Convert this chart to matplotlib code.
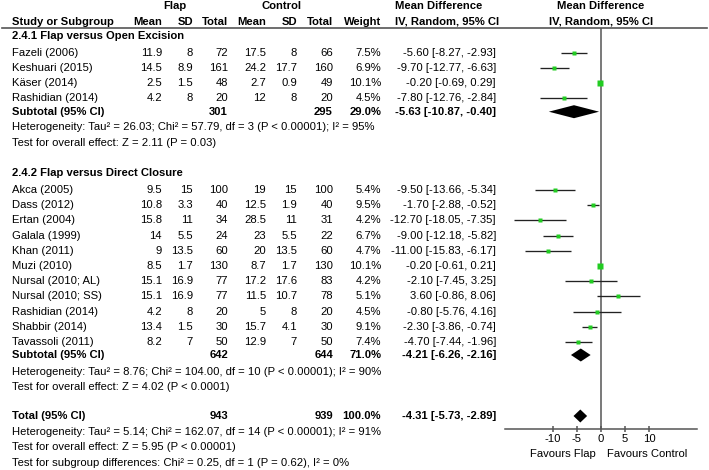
import matplotlib
matplotlib.use("Agg")
import matplotlib.pyplot as plt

plt.rcParams['font.family'] = ['Liberation Sans', 'DejaVu Sans']
plt.rcParams['axes.unicode_minus'] = False

# ---------------- data ----------------
g1_title = "2.4.1 Flap versus Open Excision"
g1_names = ["Fazeli (2006)", "Keshuari (2015)", "Käser (2014)", "Rashidian (2014)"]
g1_flap_mean = [11.9, 14.5, 2.5, 4.2]
g1_flap_sd = [8, 8.9, 1.5, 8]
g1_flap_n = [72, 161, 48, 20]
g1_ctrl_mean = [17.5, 24.2, 2.7, 12]
g1_ctrl_sd = [8, 17.7, 0.9, 8]
g1_ctrl_n = [66, 160, 49, 20]
g1_weight = [7.5, 6.9, 10.1, 4.5]
g1_md = [-5.60, -9.70, -0.20, -7.80]
g1_lo = [-8.27, -12.77, -0.69, -12.76]
g1_hi = [-2.93, -6.63, 0.29, -2.84]
g1_sub = dict(flap_n=301, ctrl_n=295, weight=29.0, md=-5.63, lo=-10.87, hi=-0.40)
g1_het = "Heterogeneity: Tau² = 26.03; Chi² = 57.79, df = 3 (P < 0.00001); I² = 95%"
g1_test = "Test for overall effect: Z = 2.11 (P = 0.03)"

g2_title = "2.4.2 Flap versus Direct Closure"
g2_names = ["Akca (2005)", "Dass (2012)", "Ertan (2004)", "Galala (1999)", "Khan (2011)",
            "Muzi (2010)", "Nursal (2010; AL)", "Nursal (2010; SS)", "Rashidian (2014)",
            "Shabbir (2014)", "Tavassoli (2011)"]
g2_flap_mean = [9.5, 10.8, 15.8, 14, 9, 8.5, 15.1, 15.1, 4.2, 13.4, 8.2]
g2_flap_sd = [15, 3.3, 11, 5.5, 13.5, 1.7, 16.9, 16.9, 8, 1.5, 7]
g2_flap_n = [100, 40, 34, 24, 60, 130, 77, 77, 20, 30, 50]
g2_ctrl_mean = [19, 12.5, 28.5, 23, 20, 8.7, 17.2, 11.5, 5, 15.7, 12.9]
g2_ctrl_sd = [15, 1.9, 11, 5.5, 13.5, 1.7, 17.6, 10.7, 8, 4.1, 7]
g2_ctrl_n = [100, 40, 31, 22, 60, 130, 83, 78, 20, 30, 50]
g2_weight = [5.4, 9.5, 4.2, 6.7, 4.7, 10.1, 4.2, 5.1, 4.5, 9.1, 7.4]
g2_md = [-9.50, -1.70, -12.70, -9.00, -11.00, -0.20, -2.10, 3.60, -0.80, -2.30, -4.70]
g2_lo = [-13.66, -2.88, -18.05, -12.18, -15.83, -0.61, -7.45, -0.86, -5.76, -3.86, -7.44]
g2_hi = [-5.34, -0.52, -7.35, -5.82, -6.17, 0.21, 3.25, 8.06, 4.16, -0.74, -1.96]
g2_sub = dict(flap_n=642, ctrl_n=644, weight=71.0, md=-4.21, lo=-6.26, hi=-2.16)
g2_het = "Heterogeneity: Tau² = 8.76; Chi² = 104.00, df = 10 (P < 0.00001); I² = 90%"
g2_test = "Test for overall effect: Z = 4.02 (P < 0.0001)"

total = dict(flap_n=943, ctrl_n=939, weight=100.0, md=-4.31, lo=-5.73, hi=-2.89)
total_het = "Heterogeneity: Tau² = 5.14; Chi² = 162.07, df = 14 (P < 0.00001); I² = 91%"
total_test = "Test for overall effect: Z = 5.95 (P < 0.00001)"
subgroup_test = "Test for subgroup differences: Chi² = 0.25, df = 1 (P = 0.62), I² = 0%"

xticks = [-10, -5, 0, 5, 10]
xtick_labels = ["-10", "-5", "0", "5", "10"]
fav_left = "Favours Flap"
fav_right = "Favours Control"

# ---------------- layout ----------------
W, H = 709, 470
fig = plt.figure(figsize=(W / 100, H / 100), dpi=100)
bg = fig.add_axes([0, 0, 1, 1])
bg.set_xlim(0, W)
bg.set_ylim(H, 0)
bg.axis('off')

AX_L, AX_R, AX_T, AX_B = 505, 697, 28, 429
fa = fig.add_axes([AX_L / W, (H - AX_B) / H, (AX_R - AX_L) / W, (AX_B - AX_T) / H])
fa.set_xlim(-20, 20)
fa.set_ylim(AX_B, AX_T)
fa.patch.set_alpha(0)
for s in ['top', 'left', 'right']:
    fa.spines[s].set_visible(False)
fa.spines['bottom'].set_color('#555555')
fa.spines['bottom'].set_linewidth(1.1)
fa.set_yticks([])
fa.set_xticks(xticks)
fa.set_xticklabels(xtick_labels)
fa.tick_params(axis='x', direction='inout', length=5, width=1.1, color='#555555',
               labelsize=8.1, pad=1)
fa.axvline(0, color='#555555', lw=1.1, zorder=1)

FS = 8.1
col_name = 12
cols = [162, 193, 228, 266, 297, 333, 381, 496]  # right edges


def txt(x, y, s, ha='right', bold=False):
    bg.text(x, y, s, ha=ha, va='center', fontsize=FS,
            fontweight='bold' if bold else 'normal', color='black')


# headers
txt(175, 6, "Flap", ha='center', bold=True)
txt(282, 6, "Control", ha='center', bold=True)
txt(395, 6, "Mean Difference", ha='left', bold=True)
txt(601, 6, "Mean Difference", ha='center', bold=True)
hy = 21.7
txt(col_name, hy, "Study or Subgroup", ha='left', bold=True)
for x, s in zip(cols[:7], ["Mean", "SD", "Total", "Mean", "SD", "Total", "Weight"]):
    txt(x, hy, s, bold=True)
txt(395, hy, "IV, Random, 95% CI", ha='left', bold=True)
txt(601, hy, "IV, Random, 95% CI", ha='center', bold=True)
bg.plot([2, 707], [28, 28], color='#555555', lw=1.2)

STEP = 15.2


def fmt_ci(md, lo, hi):
    return f"{md:.2f} [{lo:.2f}, {hi:.2f}]"


def study_rows(y0, names, fm, fs, fn, cm, cs, cn, wt, md, lo, hi):
    for i in range(len(names)):
        y = y0 + i * STEP
        txt(col_name, y, names[i], ha='left')
        vals = [f"{fm[i]:g}", f"{fs[i]:g}", f"{fn[i]}", f"{cm[i]:g}", f"{cs[i]:g}",
                f"{cn[i]}", f"{wt[i]:.1f}%", fmt_ci(md[i], lo[i], hi[i])]
        for x, s in zip(cols, vals):
            txt(x, y, s)
        fa.plot([lo[i], hi[i]], [y, y], color='#222222', lw=0.95, zorder=2,
                solid_capstyle='butt')
        size_px = 1.6 * wt[i] ** 0.5
        fa.plot([md[i]], [y], marker='s', ms=size_px * 0.72, color='#22cc22',
                mec='none', zorder=3)
    return y0 + (len(names) - 1) * STEP


def summary_row(y, label, d):
    txt(col_name, y, label, ha='left', bold=True)
    txt(cols[2], y, f"{d['flap_n']}", bold=True)
    txt(cols[5], y, f"{d['ctrl_n']}", bold=True)
    txt(cols[6], y, f"{d['weight']:.1f}%", bold=True)
    txt(cols[7], y, fmt_ci(d['md'], d['lo'], d['hi']), bold=True)
    hh = 6.5
    fa.fill([d['lo'], d['md'], d['hi'], d['md']], [y, y - hh, y, y + hh],
            color='black', lw=0, zorder=3)


# group 1
txt(col_name, 36, g1_title, ha='left', bold=True)
study_rows(52.7, g1_names, g1_flap_mean, g1_flap_sd, g1_flap_n, g1_ctrl_mean,
           g1_ctrl_sd, g1_ctrl_n, g1_weight, g1_md, g1_lo, g1_hi)
summary_row(111.7, "Subtotal (95% CI)", g1_sub)
txt(col_name, 127.3, g1_het, ha='left')
txt(col_name, 142.7, g1_test, ha='left')

# group 2
txt(col_name, 173, g2_title, ha='left', bold=True)
study_rows(190, g2_names, g2_flap_mean, g2_flap_sd, g2_flap_n, g2_ctrl_mean,
           g2_ctrl_sd, g2_ctrl_n, g2_weight, g2_md, g2_lo, g2_hi)
summary_row(355, "Subtotal (95% CI)", g2_sub)
txt(col_name, 372, g2_het, ha='left')
txt(col_name, 387, g2_test, ha='left')

# total
summary_row(416, "Total (95% CI)", total)
txt(col_name, 432, total_het, ha='left')
txt(col_name, 447, total_test, ha='left')
txt(col_name, 463, subgroup_test, ha='left')

txt(596, 454, fav_left, ha='right')
txt(607, 454, fav_right, ha='left')

fig.savefig("out.png", dpi=100)
